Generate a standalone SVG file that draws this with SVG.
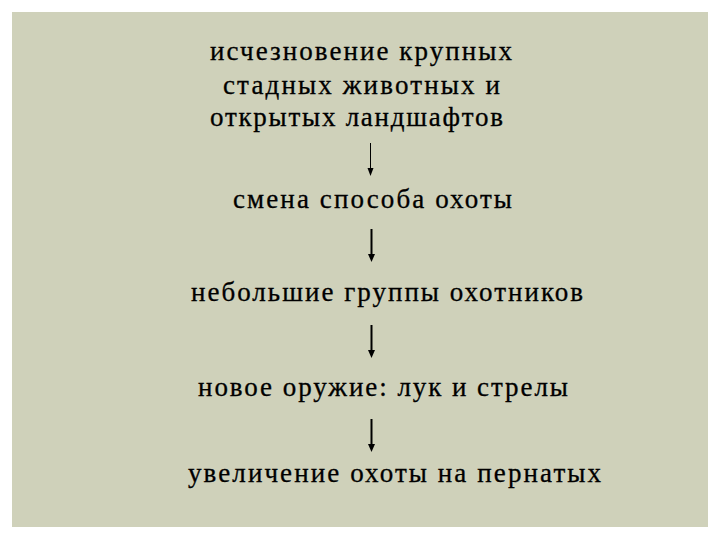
<svg xmlns="http://www.w3.org/2000/svg" width="720" height="540" viewBox="0 0 720 540">
<defs>
<style>
.t{font-family:'Liberation Serif','Times New Roman',Times,serif;font-size:27px;fill:#000;stroke:#000;stroke-width:0.3}
.c{stroke:#000;fill:none}
</style>
</defs>
<rect width="720" height="540" fill="#fff"/>
<rect x="12" y="12" width="696" height="515" fill="#cfd1ba"/>
<g id="n1">
<text class="t" x="210" y="60" textLength="302" lengthAdjust="spacing">исчезновение крупных</text>
<text class="t" x="223" y="94" textLength="277" lengthAdjust="spacing">стадных животных и</text>
<text class="t" x="210" y="126" textLength="293" lengthAdjust="spacing">открытых ландшафтов</text>
</g>
<g id="n2"><text class="t" x="233" y="208" textLength="279" lengthAdjust="spacing">смена способа охоты</text></g>
<g id="n3"><text class="t" x="191" y="301" textLength="392" lengthAdjust="spacing">небольшие группы охотников</text></g>
<g id="n4"><text class="t" x="198" y="396" textLength="370" lengthAdjust="spacing">новое оружие: лук и стрелы</text></g>
<g id="n5"><text class="t" x="188" y="482" textLength="413" lengthAdjust="spacing">увеличение охоты на пернатых</text></g>
<g id="connectors">
<line class="c" x1="370.5" y1="143" x2="370.5" y2="169" stroke-width="1"/>
<path d="M367.5,168 L373.5,168 L370.5,176 Z" fill="#000"/>
<line class="c" x1="371.5" y1="229" x2="371.5" y2="255" stroke-width="2"/>
<path d="M368,254 L375,254 L371.5,262 Z" fill="#000"/>
<line class="c" x1="371.5" y1="325" x2="371.5" y2="351" stroke-width="2"/>
<path d="M368,350 L375,350 L371.5,358 Z" fill="#000"/>
<line class="c" x1="371.5" y1="419" x2="371.5" y2="445" stroke-width="2"/>
<path d="M368,444 L375,444 L371.5,452 Z" fill="#000"/>
</g>
</svg>
